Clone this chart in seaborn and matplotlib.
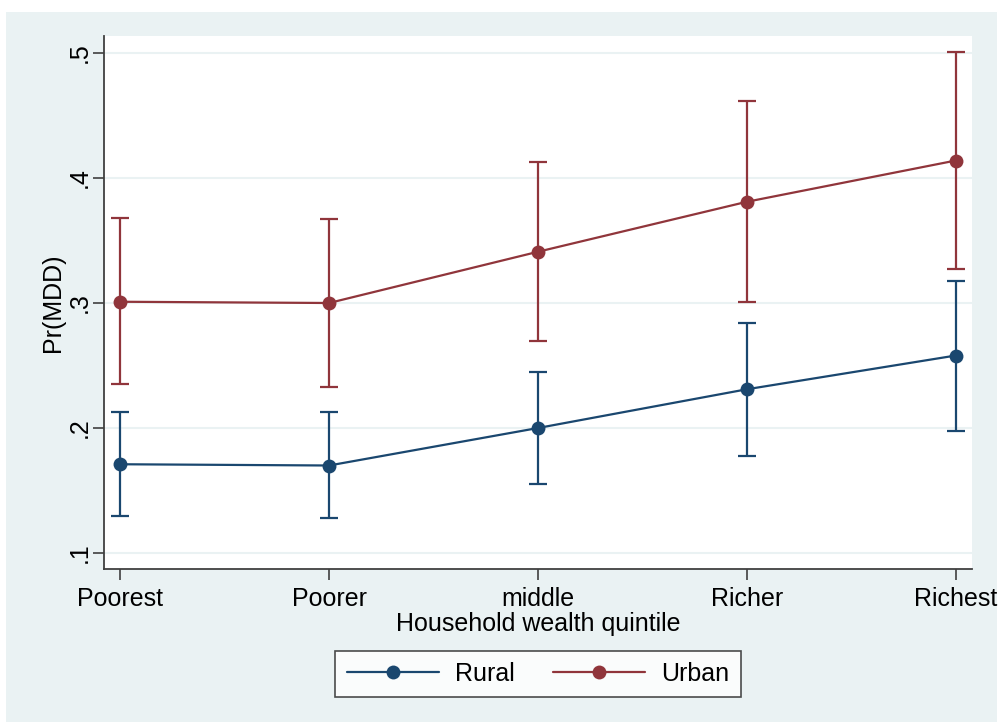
import matplotlib
matplotlib.use("Agg")
import matplotlib.pyplot as plt
import seaborn as sns
import pandas as pd
from matplotlib.patches import Rectangle
from matplotlib.lines import Line2D

categories = ["Poorest", "Poorer", "middle", "Richer", "Richest"]
rural = [0.171, 0.170, 0.200, 0.231, 0.258]
rural_lo = [0.130, 0.128, 0.155, 0.178, 0.198]
rural_hi = [0.213, 0.213, 0.245, 0.284, 0.318]
urban = [0.301, 0.300, 0.341, 0.381, 0.414]
urban_lo = [0.235, 0.233, 0.270, 0.301, 0.327]
urban_hi = [0.368, 0.367, 0.413, 0.462, 0.501]
yticks = [0.1, 0.2, 0.3, 0.4, 0.5]
ytick_labels = [".1", ".2", ".3", ".4", ".5"]

NAVY = "#1A476F"
MAROON = "#90353B"
BG = "#EAF2F3"

sns.set_theme(style="white")
plt.rcParams["font.family"] = ["Liberation Sans", "DejaVu Sans"]
plt.rcParams["text.color"] = "black"
plt.rcParams["axes.labelcolor"] = "black"
plt.rcParams["xtick.color"] = "black"
plt.rcParams["ytick.color"] = "black"

fig = plt.figure(figsize=(10.01, 7.22), dpi=100)
fig.patch.set_facecolor("white")
W, H = 1001, 722
fig.patches.append(Rectangle((6 / W, 0), (997 - 6) / W, 1 - 12 / H,
                             transform=fig.transFigure, facecolor=BG,
                             edgecolor="none", zorder=-10))

ax = fig.add_axes([104 / W, 1 - 569 / H, (972 - 104) / W, (569 - 36) / H])
ax.set_facecolor("white")

x = list(range(len(categories)))
df = pd.DataFrame({
    "x": x * 2,
    "y": rural + urban,
    "lo": rural_lo + urban_lo,
    "hi": rural_hi + urban_hi,
    "group": ["Rural"] * 5 + ["Urban"] * 5,
})

for val in yticks:
    ax.axhline(val, color=BG, lw=1.5, zorder=0)

palette = {"Rural": NAVY, "Urban": MAROON}
for g, sub in df.groupby("group"):
    ax.errorbar(sub["x"], sub["y"], yerr=[sub["y"] - sub["lo"], sub["hi"] - sub["y"]],
                fmt="none", ecolor=palette[g], elinewidth=1.6, capsize=6.5, capthick=1.6, zorder=2)
sns.lineplot(data=df, x="x", y="y", hue="group", palette=palette, marker="o",
             markersize=10, markeredgewidth=0, linewidth=1.6, ax=ax, legend=False, zorder=3)

ax.set_xlim(-0.077, 4.077)
ax.set_ylim(0.0872, 0.5136)
ax.set_xticks(x)
ax.set_xticklabels(categories, fontsize=18)
ax.set_yticks(yticks)
ax.set_yticklabels(ytick_labels, fontsize=18, rotation=90, va="center")
ax.tick_params(axis="both", length=8, width=1.2, direction="out",
               left=True, bottom=True)
ax.tick_params(axis="x", pad=5)
ax.tick_params(axis="y", pad=1)
ax.tick_params(axis="both", color="#404040")
for s in ["top", "right"]:
    ax.spines[s].set_visible(False)
for s in ["left", "bottom"]:
    ax.spines[s].set_color("#404040")
    ax.spines[s].set_linewidth(1.3)
ax.set_xlabel("Household wealth quintile", fontsize=18, labelpad=1)
ax.set_ylabel("Pr(MDD)", fontsize=18, labelpad=2)

handles = [Line2D([], [], color=NAVY, marker="o", markersize=10, markeredgewidth=0, lw=1.6),
           Line2D([], [], color=MAROON, marker="o", markersize=10, markeredgewidth=0, lw=1.6)]
leg = fig.legend(handles, ["Rural", "Urban"], loc="center", ncol=2,
                 bbox_to_anchor=(538 / W, 1 - 674 / H), fontsize=18, frameon=True,
                 fancybox=False, handlelength=3.7, columnspacing=1.5, handletextpad=0.65,
                 borderpad=0.45, borderaxespad=0)
leg.get_frame().set_edgecolor("#202020")
leg.get_frame().set_linewidth(1.2)
leg.get_frame().set_facecolor("white")

fig.savefig("out.png", dpi=100)
